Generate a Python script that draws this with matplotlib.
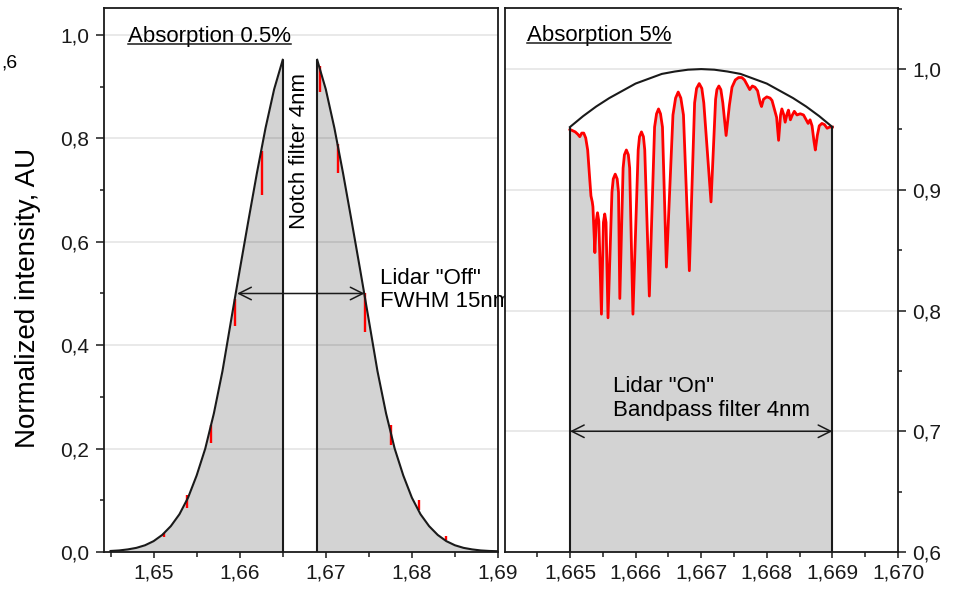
import matplotlib
matplotlib.use('Agg')
import matplotlib.pyplot as plt
from matplotlib.lines import Line2D
from matplotlib.ticker import MultipleLocator

plt.rcParams['font.family'] = ['Liberation Sans', 'DejaVu Sans']

# ---------------- data ----------------
# Left panel: laser line (Lidar "Off") with notch filter gap
left_wl = [1.645, 1.646, 1.647, 1.648, 1.649, 1.650, 1.651, 1.652, 1.653, 1.654,
           1.655, 1.656, 1.657, 1.658, 1.659, 1.660, 1.661, 1.662, 1.663, 1.664, 1.665]
left_int = [0.002, 0.003, 0.005, 0.008, 0.013, 0.021, 0.033, 0.050, 0.073, 0.105,
            0.148, 0.200, 0.268, 0.350, 0.448, 0.545, 0.640, 0.733, 0.820, 0.895, 0.952]
right_wl = [1.669, 1.670, 1.671, 1.672, 1.673, 1.674, 1.675, 1.676, 1.677, 1.678, 1.679,
            1.680, 1.681, 1.682, 1.683, 1.684, 1.685, 1.686, 1.687, 1.688, 1.689, 1.690]
right_int = [0.952, 0.895, 0.820, 0.733, 0.640, 0.545, 0.448, 0.350, 0.268, 0.200, 0.148,
             0.105, 0.073, 0.050, 0.033, 0.021, 0.013, 0.008, 0.005, 0.003, 0.002, 0.0015]
# Absorption dips (red) in the left panel: wavelength, top, bottom
dip_wl = [1.6512, 1.6539, 1.6567, 1.6595, 1.6626,
          1.6693, 1.6714, 1.6745, 1.6776, 1.6808, 1.6840]
dip_top = [0.036, 0.110, 0.245, 0.490, 0.775,
           0.940, 0.790, 0.500, 0.245, 0.100, 0.030]
dip_bottom = [0.029, 0.085, 0.211, 0.438, 0.690,
              0.890, 0.733, 0.426, 0.207, 0.081, 0.023]
fwhm_left, fwhm_right, fwhm_level = 1.6597, 1.6745, 0.5

# Right panel: bandpass envelope (Lidar "On")
env_wl = [1.6650, 1.6652, 1.6654, 1.6656, 1.6658, 1.6660, 1.6662, 1.6664, 1.6666, 1.6668,
          1.6670, 1.6672, 1.6674, 1.6676, 1.6678, 1.6680, 1.6682, 1.6684, 1.6686, 1.6688, 1.6690]
env_int = [0.952, 0.961, 0.969, 0.976, 0.982, 0.988, 0.992, 0.996, 0.998, 0.9995,
           1.000, 0.9995, 0.998, 0.996, 0.992, 0.988, 0.982, 0.976, 0.969, 0.961, 0.952]
# Absorption spectrum (red) inside the bandpass
abs_wl = [1.66500, 1.66504, 1.66508, 1.66512, 1.66515, 1.66518,
          1.66521, 1.66524, 1.66527, 1.66530, 1.66532, 1.66534,
          1.66535, 1.66538, 1.66540, 1.66542, 1.66544, 1.66548,
          1.66551, 1.66553, 1.66555, 1.66558, 1.66564, 1.66566,
          1.66569, 1.66572, 1.66574, 1.66576, 1.66581, 1.66583,
          1.66586, 1.66589, 1.66591, 1.66596, 1.66604, 1.66606,
          1.66609, 1.66612, 1.66614, 1.66621, 1.66629, 1.66632,
          1.66635, 1.66638, 1.66641, 1.66647, 1.66657, 1.66661,
          1.66665, 1.66669, 1.66673, 1.66682, 1.66690, 1.66693,
          1.66697, 1.66701, 1.66704, 1.66715, 1.66722, 1.66724,
          1.66727, 1.66730, 1.66733, 1.66738, 1.66743, 1.66747,
          1.66752, 1.66757, 1.66762, 1.66766, 1.66770, 1.66774,
          1.66778, 1.66782, 1.66786, 1.66790, 1.66792, 1.66795,
          1.66800, 1.66805, 1.66808, 1.66812, 1.66815, 1.66818,
          1.66821, 1.66823, 1.66826, 1.66828, 1.66831, 1.66833,
          1.66836, 1.66839, 1.66842, 1.66846, 1.66851, 1.66856,
          1.66860, 1.66863, 1.66866, 1.66869, 1.66872, 1.66874,
          1.66877, 1.66880, 1.66884, 1.66888, 1.66892, 1.66896,
          1.66900]
abs_int = [0.950, 0.949, 0.948, 0.946, 0.944, 0.947,
           0.947, 0.943, 0.933, 0.910, 0.895, 0.890,
           0.886, 0.848, 0.874, 0.881, 0.874, 0.797,
           0.873, 0.880, 0.873, 0.794, 0.898, 0.909,
           0.913, 0.909, 0.898, 0.810, 0.918, 0.929,
           0.933, 0.929, 0.918, 0.797, 0.933, 0.944,
           0.948, 0.944, 0.933, 0.812, 0.952, 0.963,
           0.967, 0.963, 0.952, 0.836, 0.962, 0.976,
           0.981, 0.976, 0.962, 0.833, 0.972, 0.984,
           0.988, 0.984, 0.972, 0.890, 0.975, 0.983,
           0.986, 0.983, 0.972, 0.945, 0.970, 0.985,
           0.991, 0.993, 0.993, 0.991, 0.987, 0.983,
           0.986, 0.985, 0.982, 0.972, 0.969, 0.975,
           0.977, 0.976, 0.974, 0.966, 0.960, 0.941,
           0.962, 0.967, 0.962, 0.956, 0.963, 0.966,
           0.958, 0.962, 0.965, 0.962, 0.963, 0.962,
           0.958, 0.955, 0.958, 0.953, 0.940, 0.933,
           0.945, 0.953, 0.955, 0.954, 0.951, 0.952,
           0.952]
bp_level = 0.7

# ticks
left_xticks = [1.65, 1.66, 1.67, 1.68, 1.69]
left_xticklabels = ['1,65', '1,66', '1,67', '1,68', '1,69']
left_yticks = [0.0, 0.2, 0.4, 0.6, 0.8, 1.0]
left_yticklabels = ['0,0', '0,2', '0,4', '0,6', '0,8', '1,0']
right_xticks = [1.665, 1.666, 1.667, 1.668, 1.669, 1.670]
right_xticklabels = ['1,665', '1,666', '1,667', '1,668', '1,669', '1,670']
right_yticks = [0.6, 0.7, 0.8, 0.9, 1.0]
right_yticklabels = ['0,6', '0,7', '0,8', '0,9', '1,0']

# ---------------- figure ----------------
W, H = 954, 590
fig = plt.figure(figsize=(W / 100, H / 100), dpi=100)
axL = fig.add_axes([104 / W, 38 / H, 394 / W, 544 / H])
axR = fig.add_axes([505 / W, 38 / H, 393 / W, 544 / H])

FILL = '#d3d3d3'
BLACK = '#1a1a1a'
RED = '#ff0000'
GRID = (0, 0, 0, 0.10)

# Left panel
axL.set_xlim(1.64424, 1.69)
axL.set_ylim(0, 1.0522)
axL.fill_between(left_wl, 0, left_int, color=FILL, lw=0, zorder=1)
axL.fill_between(right_wl, 0, right_int, color=FILL, lw=0, zorder=1)
for g in left_yticks[1:]:
    axL.axhline(g, color=GRID, lw=1.2, zorder=1.5)
axL.vlines(dip_wl, dip_bottom, dip_top, color=RED, lw=1.7, zorder=2)
axL.plot(left_wl, left_int, color=BLACK, lw=1.5, zorder=3)
axL.plot(right_wl, right_int, color=BLACK, lw=1.5, zorder=3)
axL.vlines([left_wl[-1], right_wl[0]], 0, [left_int[-1], right_int[0]], color=BLACK, lw=1.5, zorder=3)
axL.annotate('', xy=(fwhm_right, fwhm_level), xytext=(fwhm_left, fwhm_level),
             arrowprops=dict(arrowstyle='<->,head_length=0.6,head_width=0.3', lw=1.1,
                             color=BLACK, shrinkA=0, shrinkB=0, mutation_scale=15), zorder=4)
axL.text(1.667, 0.776, 'Notch filter 4nm', rotation=90, ha='center', va='center', fontsize=16)
axL.text(1.6763, 0.507, 'Lidar "Off"\nFWHM 15nm', ha='left', va='center', fontsize=16,
         linespacing=1.15)
tL = axL.text(1.64699, 0.9865, 'Absorption 0.5%', ha='left', va='baseline', fontsize=16)

axL.set_xticks(left_xticks, left_xticklabels)
axL.set_yticks(left_yticks, left_yticklabels)
axL.xaxis.set_minor_locator(MultipleLocator(0.005))
axL.yaxis.set_minor_locator(MultipleLocator(0.1))

# Right panel
axR.set_xlim(1.66401, 1.670)
axR.set_ylim(0.6, 1.0506)
axR.fill_between(abs_wl, 0.6, abs_int, color=FILL, lw=0, zorder=1)
for g in right_yticks[1:]:
    axR.axhline(g, color=GRID, lw=1.2, zorder=1.5)
axR.plot(abs_wl, abs_int, color=RED, lw=2.0, zorder=2, solid_joinstyle='round')
axR.plot(env_wl, env_int, color=BLACK, lw=1.5, zorder=3)
axR.vlines([env_wl[0], env_wl[-1]], 0.6, [env_int[0], env_int[-1]], color=BLACK, lw=1.5, zorder=3)
axR.annotate('', xy=(env_wl[-1], bp_level), xytext=(env_wl[0], bp_level),
             arrowprops=dict(arrowstyle='<->,head_length=0.6,head_width=0.3', lw=1.1,
                             color=BLACK, shrinkA=0, shrinkB=0, mutation_scale=15), zorder=4)
axR.text(1.66566, 0.727, 'Lidar "On"\nBandpass filter 4nm', ha='left', va='center', fontsize=16,
         linespacing=1.15)
tR = axR.text(1.66434, 1.0235, 'Absorption 5%', ha='left', va='baseline', fontsize=16)

axR.yaxis.tick_right()
axR.set_xticks(right_xticks, right_xticklabels)
axR.set_yticks(right_yticks, right_yticklabels)
axR.xaxis.set_minor_locator(MultipleLocator(0.0005))
axR.yaxis.set_minor_locator(MultipleLocator(0.05))

for ax in (axL, axR):
    for s in ax.spines.values():
        s.set_linewidth(1.3)
        s.set_color(BLACK)
    ax.tick_params(axis='both', which='both', direction='out', colors=BLACK, labelsize=15,
                   width=1.1)
    ax.tick_params(axis='x', which='major', length=4.5, pad=4)
    ax.tick_params(axis='x', which='minor', length=3.5)
    ax.tick_params(axis='y', which='major', length=5.5, pad=5)
    ax.tick_params(axis='y', which='minor', length=3)

fig.text(28 / W, 1 - 297.5 / H, 'Normalized intensity, AU', rotation=90, ha='center',
         va='center', fontsize=20)
fig.text(1 / W, 1 - 63 / H, ',6', ha='left', va='center', fontsize=14)

# underline titles
fig.canvas.draw()
r = fig.canvas.get_renderer()
for t in (tL, tR):
    bb = t.get_window_extent(r)
    _, yb = t.get_transform().transform(t.get_position())
    yl = (yb - 2.5) / H
    fig.add_artist(Line2D([bb.x0 / W, bb.x1 / W], [yl, yl], color=BLACK, lw=1.1))

fig.savefig('out.png', dpi=100)
